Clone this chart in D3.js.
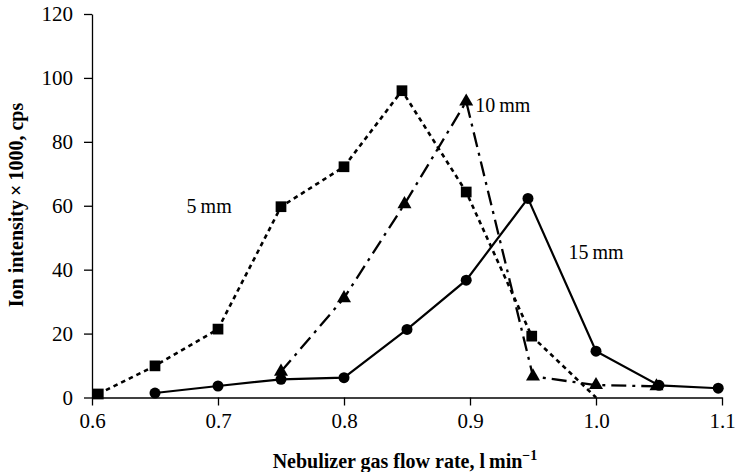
<!DOCTYPE html>
<html>
<head>
<meta charset="utf-8">
<script src="https://cdn.jsdelivr.net/npm/d3@7"></script>
<style>
  html, body { margin: 0; padding: 0; background: #fff; }
  text { font-family: "Liberation Serif", "Times New Roman", serif; fill: #000; }
</style>
</head>
<body>
<svg id="chart" width="736" height="472"></svg>
<script>
// Ion intensity vs nebulizer gas flow rate at three sampling depths
const xTicks = [0.6, 0.7, 0.8, 0.9, 1.0, 1.1];
const yTicks = [0, 20, 40, 60, 80, 100, 120];

const flow5mm  = [0.605, 0.65, 0.70, 0.75, 0.80, 0.846, 0.897, 0.949, 1.0];
const ion5mm   = [1.1, 9.9, 21.4, 59.7, 72.2, 96.0, 64.3, 19.2, 0];

const flow10mm = [0.75, 0.80, 0.848, 0.897, 0.95, 1.0, 1.048];
const ion10mm  = [8.1, 31.1, 60.5, 92.6, 6.6, 3.9, 3.5];

const flow15mm = [0.65, 0.70, 0.75, 0.80, 0.85, 0.897, 0.946, 1.0, 1.05, 1.097];
const ion15mm  = [1.4, 3.6, 5.7, 6.2, 21.3, 36.7, 62.3, 14.5, 3.8, 2.9];

const seriesLabels = ["5\u2009mm", "10\u2009mm", "15\u2009mm"];

const svg = d3.select("#chart");
const x = d3.scaleLinear().domain([0.6, 1.1]).range([92, 722]);
const y = d3.scaleLinear().domain([0, 120]).range([397.5, 14]);

// axes
const xAxis = svg.append("g").attr("transform", `translate(0,${y(0)})`)
  .call(d3.axisBottom(x).tickValues(xTicks).tickFormat(d3.format(".1f")).tickSize(8).tickSizeOuter(0));
const yAxis = svg.append("g").attr("transform", `translate(${x(0.6)},0)`)
  .call(d3.axisLeft(y).tickValues(yTicks).tickSize(8).tickSizeOuter(0));
[xAxis, yAxis].forEach(g => {
  g.select(".domain").attr("stroke", "#000").attr("stroke-width", 1.3);
  g.selectAll(".tick line").attr("stroke", "#000").attr("stroke-width", 1.3);
  g.selectAll(".tick text").attr("font-family", "Liberation Serif").attr("font-size", 21).attr("fill", "#000");
});
xAxis.selectAll(".tick text").attr("dy", "0.95em");
yAxis.selectAll(".tick text").attr("x", -19);

// axis titles
const xt = svg.append("text").attr("x", 405).attr("y", 468).attr("text-anchor", "middle")
  .attr("font-size", 20).attr("font-weight", "bold");
xt.append("tspan").text("Nebulizer gas flow rate, l\u2009min");
xt.append("tspan").attr("dy", -8).attr("font-size", 14).text("\u22121");

svg.append("text").attr("transform", "translate(23,205) rotate(-90)").attr("text-anchor", "middle")
  .attr("font-size", 20).attr("font-weight", "bold").text("Ion intensity\u2009\u00d7\u20091000, cps");

const line = d3.line().x(d => x(d[0])).y(d => y(d[1]));
const series = [
  { flow: flow15mm, ion: ion15mm, dash: null, width: 2.2, symbol: d3.symbolCircle, size: 95 },
  { flow: flow10mm, ion: ion10mm, dash: "15,6,3,6", width: 2.3, symbol: d3.symbolTriangle, size: 85 },
  { flow: flow5mm,  ion: ion5mm,  dash: "4.5,4", width: 2.6, symbol: d3.symbolSquare, size: 115 }
];

series.forEach(s => {
  const pts = s.flow.map((f, i) => [f, s.ion[i]]);
  svg.append("path").datum(pts).attr("d", line)
    .attr("fill", "none").attr("stroke", "#000").attr("stroke-width", s.width)
    .attr("stroke-dasharray", s.dash);
  // markers only where the signal was registered
  svg.selectAll(null).data(pts.filter(p => p[1] > 0)).enter().append("path")
    .attr("d", d3.symbol().type(s.symbol).size(s.size))
    .attr("transform", p => `translate(${x(p[0])},${y(p[1])})`)
    .attr("fill", "#000");
});

// series labels
const labelPos = [[0.693, 60], [0.926, 91.5], [1.0, 45.5]];
seriesLabels.forEach((t, i) => {
  svg.append("text").attr("x", x(labelPos[i][0])).attr("y", y(labelPos[i][1]))
    .attr("text-anchor", "middle").attr("dominant-baseline", "central")
    .attr("font-size", 20).text(t);
});
</script>
</body>
</html>
